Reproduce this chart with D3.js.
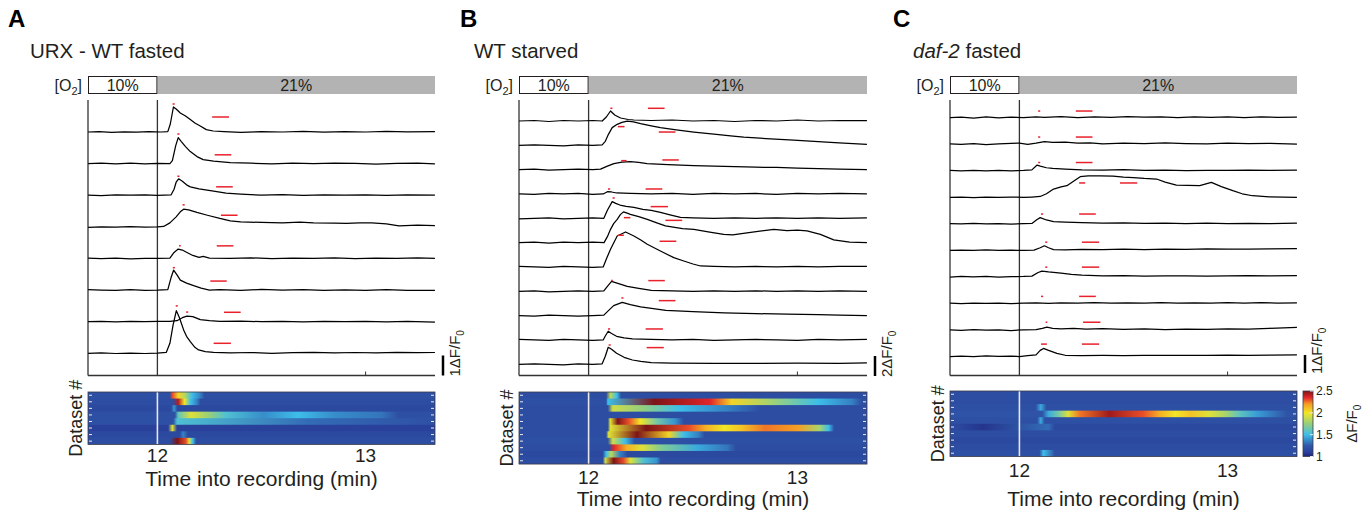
<!DOCTYPE html>
<html>
<head>
<meta charset="utf-8">
<script src="https://cdn.jsdelivr.net/npm/d3@7"></script>
<style>
    body { margin: 0; background: #fff; }
    text { font-family: "Liberation Sans", Arial, sans-serif; fill: #231f20; }
</style>
</head>
<body>
<script>
/** time axis (min) shared by all panels */
const timeDomain = [11 + 2 / 3, 13 + 1 / 3];
const timeTicks = [12, 13];
const stimulusOnset = 12;
const o2Levels = ["10%", "21%"];
const panelLetters = ["A", "B", "C"];
const scaleBarValues = [1, 2, 1];
const colorbarTicks = [1, 1.5, 2, 2.5];

/** ΔF/F0 traces, [time, value] */
const tracesA = [
    [[11.667,0],[11.72,0.02],[11.78,-0.02],[11.84,0.01],[11.9,-0.01],[11.96,0.02],[12.02,0],[12.05,0.02],[12.062,0.4],[12.077,1.25],[12.09,1.15],[12.11,0.95],[12.135,0.8],[12.158,0.62],[12.18,0.45],[12.206,0.3],[12.235,0.12],[12.268,0.05],[12.32,0.02],[12.4,-0.02],[12.5,0.02],[12.6,0],[12.7,0.03],[12.8,-0.01],[12.9,0.02],[13.0,0],[13.1,0.03],[13.2,0.01],[13.333,0.02]],
    [[11.667,0],[11.73,0.02],[11.8,-0.01],[11.87,0.02],[11.94,-0.01],[12.0,0.01],[12.06,0],[12.072,0.15],[12.088,0.9],[12.1,1.3],[12.115,1.1],[12.135,0.85],[12.158,0.6],[12.19,0.35],[12.22,0.2],[12.27,0.12],[12.35,0.05],[12.45,0.02],[12.55,-0.01],[12.65,0.02],[12.75,0],[12.85,0.03],[12.95,0.01],[13.05,-0.02],[13.15,0.01],[13.25,0.02],[13.333,-0.01]],
    [[11.667,0],[11.73,-0.02],[11.8,0.02],[11.87,0],[11.94,0.02],[12.0,-0.01],[12.066,0.02],[12.08,0.3],[12.09,0.65],[12.102,0.82],[12.12,0.7],[12.14,0.52],[12.158,0.42],[12.2,0.32],[12.27,0.2],[12.33,0.1],[12.4,0.05],[12.5,0],[12.6,0.03],[12.7,-0.01],[12.8,0.02],[12.9,0],[13.0,0.02],[13.1,-0.01],[13.2,0.02],[13.333,0]],
    [[11.667,-0.03],[11.73,0],[11.8,-0.02],[11.87,0.01],[11.94,-0.01],[12.0,0],[12.03,0.02],[12.06,0.2],[12.09,0.5],[12.11,0.75],[12.126,0.88],[12.15,0.85],[12.19,0.72],[12.24,0.58],[12.3,0.42],[12.35,0.3],[12.4,0.25],[12.5,0.22],[12.6,0.2],[12.684,0.24],[12.75,0.2],[12.85,0.18],[12.908,0.17],[12.97,0.2],[13.03,0.2],[13.1,0.15],[13.16,0.05],[13.25,0.08],[13.333,0.06]],
    [[11.667,0.02],[11.73,-0.01],[11.8,0.02],[11.87,-0.02],[11.94,0.01],[12.0,0],[12.06,0.02],[12.08,0.3],[12.1,0.47],[12.12,0.42],[12.142,0.3],[12.17,0.15],[12.2,0.05],[12.22,0.1],[12.25,0.02],[12.35,0],[12.45,0.03],[12.55,-0.01],[12.65,0.02],[12.75,0],[12.85,0.03],[12.95,-0.01],[13.05,0.02],[13.15,0],[13.25,0.03],[13.333,0.01]],
    [[11.667,0.02],[11.73,0],[11.8,-0.02],[11.87,0.02],[11.94,-0.01],[12.0,0],[12.05,0.02],[12.065,0.6],[12.078,1.0],[12.095,0.75],[12.11,0.5],[12.14,0.35],[12.174,0.22],[12.21,0.1],[12.25,0],[12.3,0.02],[12.4,-0.01],[12.5,0.03],[12.6,0],[12.7,0.02],[12.8,-0.02],[12.9,0.01],[13.0,-0.01],[13.1,0.02],[13.2,-0.01],[13.333,-0.02]],
    [[11.667,0],[11.73,0.02],[11.8,-0.01],[11.87,0.02],[11.94,0],[12.0,0.02],[12.06,0.01],[12.094,0.05],[12.12,0.2],[12.142,0.28],[12.17,0.25],[12.206,0.1],[12.25,0.05],[12.3,0.02],[12.4,0.03],[12.5,0],[12.6,0.02],[12.7,-0.01],[12.8,0.02],[12.9,0],[13.0,0.02],[13.1,-0.01],[13.2,0.01],[13.333,-0.02]],
    [[11.667,0],[11.73,0.02],[11.8,-0.01],[11.87,0.01],[11.94,-0.01],[12.0,0.01],[12.043,0.05],[12.06,0.5],[12.075,1.4],[12.091,2.13],[12.105,1.8],[12.126,1.17],[12.14,0.85],[12.158,0.58],[12.18,0.3],[12.198,0.17],[12.23,0.08],[12.27,0.05],[12.35,0.02],[12.45,0.04],[12.55,0],[12.65,0.03],[12.75,0.05],[12.85,0.02],[12.95,0.04],[13.05,0.02],[13.15,0.05],[13.25,0.03],[13.333,0.04]]
];
/** red marks: [t start, t end, ΔF/F0 level] */
const peakMarksA = [[12.073,12.083,1.4],[12.096,12.106,1.48],[12.096,12.106,0.95],[12.121,12.131,1.1],[12.104,12.112,0.63],[12.074,12.084,1.12],[12.138,12.148,0.48],[12.088,12.098,2.37]];
const sustainMarksA = [[12.263,12.344,0.75],[12.275,12.355,0.44],[12.282,12.362,0.42],[12.305,12.385,0.58],[12.285,12.365,0.63],[12.254,12.333,0.45],[12.32,12.40,0.47],[12.27,12.353,0.5]];
/** heatmap rows: background level + [t start, t end, level] */
const heatBaseA = [1.2, 1.18, 1.15, 1.2, 1.2, 1.1, 1.15, 1.18];
const heatSegsA = [
    [[12.064,12.08,2.3],[12.08,12.12,2.05],[12.12,12.14,1.85],[12.14,12.19,1.5],[12.19,12.22,1.35]],
    [[12.08,12.12,2.42],[12.12,12.14,2.0],[12.14,12.18,1.5],[12.18,12.2,1.35]],
    [[12.07,12.09,1.4]],
    [[12.088,12.112,1.6],[12.112,12.21,1.95],[12.21,12.29,1.75],[12.29,12.37,1.55],[12.37,12.65,1.38],[12.65,12.7,1.5],[12.7,13.0,1.38],[13.0,13.15,1.32]],
    [[12.08,12.11,1.55],[12.11,13.333,1.3]],
    [[12.056,12.088,1.95]],
    [[12.11,12.14,1.35]],
    [[12.064,12.128,2.55],[12.128,12.145,2.3],[12.145,12.16,1.95],[12.16,12.18,1.5]]
];

const tracesB = [
    [[11.667,0],[11.74,0.05],[11.81,-0.05],[11.88,0.05],[11.95,0],[12.02,0.05],[12.065,0],[12.085,0.4],[12.105,1.0],[12.125,0.6],[12.153,0.3],[12.19,0.15],[12.217,0.1],[12.3,0.05],[12.4,0.1],[12.5,0],[12.6,0.05],[12.7,-0.05],[12.8,0.05],[12.9,0],[13.0,0.1],[13.1,0],[13.2,0.05],[13.333,0.05]],
    [[11.667,0],[11.74,0.05],[11.81,0],[11.88,-0.05],[11.95,0.05],[12.02,0],[12.065,0.05],[12.08,0.4],[12.095,1.1],[12.113,1.77],[12.137,2.1],[12.16,2.3],[12.185,2.43],[12.215,2.35],[12.249,2.17],[12.3,1.95],[12.344,1.77],[12.42,1.55],[12.504,1.33],[12.6,1.12],[12.68,0.95],[12.743,0.83],[12.85,0.68],[12.982,0.53],[13.1,0.38],[13.2,0.25],[13.333,0.1]],
    [[11.667,0],[11.74,0.05],[11.81,-0.05],[11.88,0],[11.95,0.05],[12.02,0],[12.057,0.05],[12.09,0.35],[12.121,0.6],[12.16,0.75],[12.2,0.8],[12.24,0.72],[12.28,0.6],[12.38,0.5],[12.504,0.4],[12.6,0.35],[12.7,0.3],[12.8,0.25],[12.9,0.22],[13.0,0.15],[13.1,0.1],[13.2,0.05],[13.333,0]],
    [[11.667,0],[11.74,-0.05],[11.81,0.05],[11.88,0],[11.95,0.05],[12.02,-0.05],[12.07,0],[12.09,0.23],[12.11,0.2],[12.134,0.1],[12.2,0.05],[12.3,0],[12.4,0.05],[12.5,-0.05],[12.6,0.05],[12.7,0],[12.8,0.05],[12.9,-0.05],[13.0,0.05],[13.1,0],[13.2,0.05],[13.333,0]],
    [[11.667,-0.05],[11.74,0],[11.81,0.05],[11.88,-0.05],[11.95,0],[12.02,0.05],[12.073,0],[12.09,0.8],[12.113,1.67],[12.13,1.5],[12.15,1.33],[12.18,1.2],[12.217,1.1],[12.26,0.9],[12.3,0.8],[12.344,0.6],[12.39,0.35],[12.44,0.1],[12.5,0.05],[12.6,0],[12.7,0.05],[12.8,0],[12.9,0.05],[13.0,0],[13.1,0.05],[13.2,0],[13.333,0.05]],
    [[11.667,0],[11.74,0.05],[11.81,-0.05],[11.88,0.05],[11.95,0],[12.02,0.05],[12.074,0],[12.09,0.6],[12.105,1.33],[12.12,1.9],[12.137,2.33],[12.152,2.8],[12.167,3.08],[12.185,2.95],[12.2,2.83],[12.24,2.6],[12.281,2.33],[12.33,1.95],[12.368,1.67],[12.45,1.4],[12.504,1.33],[12.58,1.05],[12.647,0.83],[12.69,0.77],[12.75,0.95],[12.82,1.15],[12.887,1.33],[12.95,1.2],[13.0,1.25],[13.046,1.17],[13.11,0.83],[13.174,0.27],[13.25,0.05],[13.333,0]],
    [[11.667,0.05],[11.74,0],[11.81,-0.05],[11.88,0.05],[11.95,0],[12.02,-0.05],[12.07,0],[12.085,0.8],[12.105,1.77],[12.137,3.1],[12.177,3.5],[12.217,3.1],[12.25,2.7],[12.281,2.27],[12.344,1.6],[12.408,0.93],[12.456,0.6],[12.5,0.3],[12.536,0.1],[12.6,0.05],[12.7,0],[12.8,0.05],[12.9,0],[13.0,0.05],[13.1,0],[13.2,0.05],[13.333,0.05]],
    [[11.667,0],[11.74,0.05],[11.81,-0.05],[11.88,0],[11.95,0.05],[12.02,0],[12.073,0.05],[12.09,0.5],[12.11,1.0],[12.14,0.8],[12.185,0.5],[12.24,0.3],[12.3,0.1],[12.4,0.05],[12.5,0],[12.6,0.05],[12.7,0],[12.8,0.05],[12.9,0],[13.0,0.05],[13.1,0],[13.2,0.05],[13.333,0]],
    [[11.667,0],[11.74,-0.05],[11.81,0.05],[11.88,0],[11.95,-0.05],[12.02,0],[12.073,0.05],[12.095,0.5],[12.12,1.0],[12.161,1.33],[12.2,1.1],[12.249,0.87],[12.31,0.7],[12.37,0.53],[12.5,0.4],[12.65,0.27],[12.8,0.2],[12.95,0.15],[13.1,0.1],[13.2,0.05],[13.333,0]],
    [[11.667,0.05],[11.74,0],[11.81,-0.05],[11.88,0.05],[11.95,0],[12.02,-0.05],[12.07,0],[12.08,0.4],[12.094,0.87],[12.11,0.65],[12.134,0.37],[12.17,0.2],[12.21,0.1],[12.3,0.05],[12.4,0],[12.5,0.05],[12.6,-0.05],[12.7,0],[12.8,0.05],[12.9,0],[13.0,-0.05],[13.1,0.05],[13.2,0],[13.333,0.05]],
    [[11.667,0],[11.74,0.05],[11.81,0],[11.88,-0.05],[11.95,0.05],[12.02,0],[12.065,0.05],[12.08,0.8],[12.094,1.7],[12.11,1.5],[12.134,1.1],[12.17,0.7],[12.21,0.43],[12.25,0.3],[12.3,0.17],[12.4,0.12],[12.6,0.1],[12.8,0.1],[13.0,0.12],[13.2,0.1],[13.333,0.15]]
];
const peakMarksB = [[12.104,12.114,1.27],[12.14,12.172,1.87],[12.156,12.182,0.9],[12.093,12.103,0.5],[12.115,12.125,2.03],[12.169,12.2,2.5],[12.14,12.169,3.17],[12.108,12.116,1.07],[12.157,12.167,1.77],[12.093,12.103,1.1],[12.096,12.106,1.93]];
const sustainMarksB = [[12.284,12.364,1.27],[12.336,12.416,1.33],[12.353,12.432,0.97],[12.273,12.353,0.5],[12.297,12.38,1.17],[12.368,12.448,2.23],[12.34,12.42,2.57],[12.286,12.365,1.07],[12.336,12.416,1.5],[12.273,12.356,1.1],[12.278,12.36,1.67]];
const heatBaseB = [1.18, 1.2, 1.18, 1.18, 1.18, 1.18, 1.18, 1.2, 1.18, 1.15, 1.18];
const heatSegsB = [
    [[12.088,12.12,1.85],[12.12,12.15,1.5]],
    [[12.088,12.096,1.5],[12.096,12.534,2.55],[12.534,12.63,2.35],[12.63,12.74,2.05],[12.74,12.98,1.8],[12.98,13.22,1.5],[13.22,13.3,1.35]],
    [[12.096,12.135,1.9],[12.135,12.37,1.75],[12.37,12.5,1.5],[12.5,12.82,1.35]],
    [],
    [[12.096,12.112,1.95],[12.112,12.167,2.5],[12.167,12.215,2.3],[12.215,12.28,2.0],[12.28,12.375,1.65],[12.375,12.45,1.4]],
    [[12.096,12.112,1.95],[12.112,12.44,2.55],[12.44,12.52,2.3],[12.52,12.6,2.15],[12.6,12.7,2.0],[12.7,12.77,2.1],[12.77,12.92,2.25],[12.92,13.08,2.2],[13.08,13.13,1.8],[13.13,13.17,1.5]],
    [[12.088,12.104,1.95],[12.104,12.36,2.55],[12.36,12.41,2.05],[12.41,12.5,1.5],[12.5,12.55,1.35]],
    [[12.096,12.135,1.9],[12.135,12.215,1.5]],
    [[12.104,12.135,2.35],[12.135,12.23,2.15],[12.23,12.28,1.95],[12.28,12.41,1.7],[12.41,12.63,1.45],[12.63,12.7,1.32]],
    [[12.072,12.096,1.5],[12.096,12.12,1.85],[12.12,12.18,1.35]],
    [[12.072,12.088,1.9],[12.088,12.152,2.55],[12.152,12.184,2.3],[12.184,12.215,1.95],[12.215,12.31,1.55],[12.31,12.34,1.4]]
];

const tracesC = [
    [[11.667,0],[11.72,0.03],[11.78,-0.02],[11.84,0.04],[11.9,-0.01],[11.96,0.03],[12.02,0],[12.08,0.04],[12.12,0.02],[12.2,0.06],[12.28,0.01],[12.36,0.04],[12.44,0.02],[12.52,0.06],[12.6,0.03],[12.68,0.04],[12.76,0.01],[12.84,0.05],[12.92,0.02],[13.0,0.04],[13.08,0.01],[13.16,0.04],[13.24,0.02],[13.333,0.03]],
    [[11.667,0.02],[11.72,0],[11.78,0.04],[11.84,-0.02],[11.9,0.02],[11.96,0.05],[12.0,0.06],[12.04,0],[12.08,0.06],[12.12,0.15],[12.16,0.1],[12.22,0.12],[12.28,0.06],[12.34,0.08],[12.4,0.02],[12.5,0.06],[12.6,0.03],[12.7,0.08],[12.8,0.04],[12.9,0.02],[13.0,0.06],[13.1,0.03],[13.2,0.05],[13.333,0.01]],
    [[11.667,0.02],[11.72,0],[11.78,0.03],[11.84,-0.01],[11.9,0.02],[11.96,0],[12.02,0.02],[12.06,0.05],[12.085,0.32],[12.1,0.26],[12.13,0.17],[12.16,0.13],[12.22,0.09],[12.3,0.05],[12.4,0.04],[12.5,0.06],[12.6,0.03],[12.7,0.04],[12.8,0.01],[12.9,0.03],[13.0,0.02],[13.1,0.04],[13.2,0.02],[13.333,0.04]],
    [[11.667,0],[11.72,0.02],[11.78,-0.02],[11.84,0.02],[11.9,0],[11.96,0.02],[12.02,0],[12.06,0.02],[12.1,0.05],[12.13,0.2],[12.164,0.46],[12.2,0.58],[12.228,0.65],[12.26,0.9],[12.292,1.15],[12.33,1.2],[12.388,1.2],[12.45,1.18],[12.5,1.12],[12.547,1.1],[12.6,1.05],[12.659,1.02],[12.7,0.85],[12.754,0.68],[12.81,0.66],[12.866,0.65],[12.922,0.83],[12.97,0.6],[13.025,0.37],[13.07,0.2],[13.12,0.09],[13.2,0.03],[13.333,0]],
    [[11.667,0.02],[11.72,0],[11.78,0.03],[11.84,0],[11.9,0.02],[11.96,-0.01],[12.02,0.02],[12.06,0.03],[12.085,0.25],[12.1,0.35],[12.13,0.22],[12.164,0.13],[12.22,0.1],[12.3,0.07],[12.4,0.04],[12.5,0.06],[12.6,0.03],[12.7,0.05],[12.8,0.02],[12.9,0.04],[13.0,0.01],[13.1,0.03],[13.2,0.02],[13.333,0.04]],
    [[11.667,0],[11.72,0.02],[11.78,0],[11.84,0.03],[11.9,0],[11.96,0.02],[12.02,0],[12.07,0.02],[12.1,0.15],[12.12,0.26],[12.14,0.15],[12.164,0.05],[12.22,0.04],[12.3,0.06],[12.4,0.05],[12.5,0.07],[12.6,0.05],[12.7,0.08],[12.8,0.06],[12.9,0.09],[13.0,0.07],[13.1,0.08],[13.2,0.09],[13.333,0.1]],
    [[11.667,0],[11.72,0.03],[11.78,0.01],[11.84,0.03],[11.9,0],[11.96,0.02],[12.02,0.03],[12.06,0.05],[12.09,0.25],[12.108,0.33],[12.14,0.28],[12.2,0.22],[12.25,0.15],[12.3,0.1],[12.4,0.06],[12.5,0.08],[12.6,0.05],[12.7,0.07],[12.8,0.06],[12.9,0.05],[13.0,0.07],[13.1,0.08],[13.2,0.06],[13.333,0.08]],
    [[11.667,0.02],[11.72,0],[11.78,0.03],[11.84,0.01],[11.9,0.02],[11.96,0],[12.02,0.03],[12.08,0.04],[12.14,0.01],[12.2,0.04],[12.28,0.02],[12.36,0.05],[12.44,0.02],[12.52,0.04],[12.6,0.03],[12.68,0.05],[12.76,0.02],[12.84,0.04],[12.92,0.03],[13.0,0.05],[13.08,0.02],[13.16,0.05],[13.24,0.03],[13.333,0.04]],
    [[11.667,0.02],[11.72,-0.01],[11.78,0.03],[11.84,0],[11.9,0.02],[11.96,-0.02],[12.02,0.02],[12.08,0.03],[12.11,0.1],[12.132,0.17],[12.16,0.1],[12.2,0.07],[12.26,0.1],[12.32,0.05],[12.4,0.08],[12.5,0.04],[12.6,0.07],[12.7,0.03],[12.8,0.06],[12.9,0.04],[13.0,0.07],[13.1,0.05],[13.2,0.1],[13.333,0.16]],
    [[11.667,0],[11.72,0.03],[11.78,0.01],[11.84,0.04],[11.9,0.02],[11.96,0.03],[12.0,0.01],[12.04,0.06],[12.08,0.1],[12.1,0.35],[12.116,0.46],[12.14,0.35],[12.18,0.18],[12.22,0.08],[12.3,0.06],[12.4,0.07],[12.5,0.06],[12.6,0.07],[12.7,0.08],[12.8,0.07],[12.9,0.08],[13.0,0.09],[13.1,0.07],[13.2,0.09],[13.333,0.1]]
];
const peakMarksC = [[12.09,12.1,0.37],[12.09,12.1,0.4],[12.09,12.1,0.46],[12.287,12.316,0.8],[12.104,12.114,0.55],[12.124,12.134,0.46],[12.124,12.134,0.55],[12.104,12.114,0.4],[12.126,12.134,0.44],[12.104,12.132,0.7]];
const sustainMarksC = [[12.271,12.351,0.37],[12.271,12.351,0.4],[12.271,12.351,0.46],[12.483,12.566,0.8],[12.287,12.367,0.55],[12.3,12.383,0.46],[12.3,12.383,0.55],[12.287,12.367,0.4],[12.306,12.389,0.44],[12.3,12.383,0.7]];
const heatBaseC = [1.18, 1.18, 1.2, 1.22, 1.2, 1.15, 1.18, 1.15, 1.18, 1.2];
const heatSegsC = [
    [],
    [],
    [[12.083,12.123,1.45]],
    [[12.115,12.163,1.45],[12.163,12.21,1.65],[12.21,12.26,1.95],[12.26,12.32,2.25],[12.32,12.545,2.45],[12.545,12.64,2.3],[12.64,12.71,2.15],[12.71,12.785,2.0],[12.785,12.86,2.1],[12.86,12.96,1.95],[12.96,13.02,1.8],[13.02,13.09,1.6],[13.09,13.19,1.42],[13.19,13.28,1.3]],
    [[12.09,12.115,1.45]],
    [[11.7,11.95,1.06],[12.115,12.163,1.3]],
    [],
    [],
    [],
    [[12.1,12.131,1.5],[12.131,12.163,1.35]]
];

/** 页面布局：每个面板的像素位置 */
const panels = [
    { traces: tracesA, peaks: peakMarksA, sustains: sustainMarksA, heatBase: heatBaseA, heatSegs: heatSegsA,
      left: 88, right: 435, firstBase: 132, lastBase: 353.3, unitPx: 20, barBottom: 375.5,
      heatTop: 392, tickY: 462, xLabelY: 486, letterX: 8, titleX: 30 },
    { traces: tracesB, peaks: peakMarksB, sustains: sustainMarksB, heatBase: heatBaseB, heatSegs: heatSegsB,
      left: 519, right: 867, firstBase: 121, lastBase: 364.3, unitPx: 10, barBottom: 376,
      heatTop: 392, tickY: 484, xLabelY: 506, letterX: 460, titleX: 474 },
    { traces: tracesC, peaks: peakMarksC, sustains: sustainMarksC, heatBase: heatBaseC, heatSegs: heatSegsC,
      left: 950, right: 1297, firstBase: 117.7, lastBase: 356.7, unitPx: 18, barBottom: 373,
      heatTop: 391, tickY: 477, xLabelY: 506, letterX: 893, titleX: 913 }
];
const rowHeight = 6.55;
const traceTop = 100;
const axisY = 375.5;

/** jet-like colour map of the heatmaps */
const heatColor = d3.scaleLinear()
    .domain([1, 1.1, 1.25, 1.5, 1.75, 2, 2.2, 2.35, 2.5])
    .range(["#1d2277", "#2a419b", "#3058a9", "#3dbee9", "#95cf7c", "#f2e626", "#f59e25", "#e2252a", "#7e1416"])
    .clamp(true);

const svg = d3.select("body").append("svg")
    .attr("width", 1371)
    .attr("height", 517);
const defs = svg.append("defs");

const drawPanel = (p, i) => {
    const g = svg.append("g");
    const x = d3.scaleLinear().domain(timeDomain).range([p.left, p.right]);
    const base = d3.scaleLinear().domain([0, p.traces.length - 1]).range([p.firstBase, p.lastBase]);

    // 面板字母与标题
    g.append("text").attr("x", p.letterX).attr("y", 27)
        .style("font-size", "24px").style("font-weight", "bold").style("fill", "#000")
        .text(panelLetters[i]);
    const title = g.append("text").attr("x", p.titleX).attr("y", 58).style("font-size", "20.5px");
    if (i === 0) title.text("URX - WT fasted");
    if (i === 1) title.text("WT starved");
    if (i === 2) {
        title.append("tspan").style("font-style", "italic").text("daf-2");
        title.append("tspan").text(" fasted");
    }

    // [O2] 刺激条
    g.append("rect").attr("x", x(stimulusOnset)).attr("y", 76)
        .attr("width", x(timeDomain[1]) - x(stimulusOnset)).attr("height", 18)
        .style("fill", "#b3b3b3");
    g.append("rect").attr("x", x(timeDomain[0]) + 0.5).attr("y", 76.5)
        .attr("width", x(stimulusOnset) - x(timeDomain[0]) - 1).attr("height", 17)
        .style("fill", "#fff").style("stroke", "#231f20").style("stroke-width", 1);
    g.append("text").attr("x", (x(timeDomain[0]) + x(stimulusOnset)) / 2).attr("y", 91)
        .attr("text-anchor", "middle").style("font-size", "16px").text(o2Levels[0]);
    g.append("text").attr("x", (x(stimulusOnset) + x(timeDomain[1])) / 2).attr("y", 91)
        .attr("text-anchor", "middle").style("font-size", "16px").text(o2Levels[1]);
    const o2 = g.append("text").attr("x", p.left - 6).attr("y", 91)
        .attr("text-anchor", "end").style("font-size", "16px");
    o2.append("tspan").text("[O");
    o2.append("tspan").attr("dy", 4).style("font-size", "11px").text("2");
    o2.append("tspan").attr("dy", -4).text("]");

    // 坐标轴线
    const axisColor = "#333";
    g.append("line").attr("x1", p.left).attr("x2", p.left).attr("y1", traceTop).attr("y2", axisY)
        .style("stroke", axisColor).style("stroke-width", 1.3);
    g.append("line").attr("x1", p.left).attr("x2", p.right).attr("y1", axisY).attr("y2", axisY)
        .style("stroke", axisColor).style("stroke-width", 1.3);
    g.append("line").attr("x1", x(stimulusOnset)).attr("x2", x(stimulusOnset))
        .attr("y1", traceTop).attr("y2", axisY)
        .style("stroke", axisColor).style("stroke-width", 1.3);
    g.selectAll(".tick13").data(timeTicks.filter(t => t !== stimulusOnset)).enter()
        .append("line").attr("x1", d => x(d)).attr("x2", d => x(d))
        .attr("y1", axisY).attr("y2", axisY - 4)
        .style("stroke", axisColor).style("stroke-width", 1);

    // 荧光曲线
    p.traces.forEach((tr, k) => {
        const y = d3.scaleLinear().domain([0, 1]).range([base(k), base(k) - p.unitPx]);
        const line = d3.line().x(d => x(d[0])).y(d => y(d[1]));
        g.append("path").datum(tr).attr("d", line)
            .style("fill", "none").style("stroke", "#000").style("stroke-width", 1.25)
            .style("stroke-linejoin", "round");
        [p.peaks[k], p.sustains[k]].forEach(m => {
            g.append("line").attr("x1", x(m[0])).attr("x2", x(m[1]))
                .attr("y1", y(m[2])).attr("y2", y(m[2]))
                .style("stroke", "#e8212b").style("stroke-width", 1.5);
        });
    });

    // 比例尺
    g.append("line").attr("x1", p.right + 8).attr("x2", p.right + 8)
        .attr("y1", p.barBottom).attr("y2", p.barBottom - p.unitPx * scaleBarValues[i])
        .style("stroke", "#000").style("stroke-width", 2.5);
    const sb = g.append("text")
        .attr("transform", `translate(${p.right + 25},${p.barBottom + 1}) rotate(-90)`)
        .style("font-size", "15px");
    sb.append("tspan").text(scaleBarValues[i] + "\u0394F/F");
    sb.append("tspan").attr("dy", 4).style("font-size", "10px").text("0");

    // 热图：每行一个水平渐变，停点取自各段中点
    const rows = d3.range(p.heatBase.length);
    const band = d3.scaleBand().domain(rows).range([p.heatTop, p.heatTop + rows.length * rowHeight]);
    const heatBottom = p.heatTop + rows.length * rowHeight;
    rows.forEach(r => {
        const gid = `heat${i}_${r}`;
        const gr = defs.append("linearGradient").attr("id", gid)
            .attr("gradientUnits", "userSpaceOnUse")
            .attr("x1", p.left).attr("x2", p.right).attr("y1", 0).attr("y2", 0);
        const stops = [[timeDomain[0], p.heatBase[r]]];
        const segs = p.heatSegs[r];
        if (segs.length) {
            stops.push([segs[0][0] - 0.004, p.heatBase[r]]);
            segs.forEach(s => stops.push([(s[0] + s[1]) / 2, s[2]]));
            stops.push([segs[segs.length - 1][1] + 0.006, p.heatBase[r]]);
        }
        stops.push([timeDomain[1], p.heatBase[r]]);
        stops.forEach(s => {
            gr.append("stop")
                .attr("offset", (x(s[0]) - p.left) / (p.right - p.left))
                .attr("stop-color", heatColor(s[1]));
        });
        g.append("rect").attr("x", p.left).attr("y", band(r))
            .attr("width", p.right - p.left).attr("height", band.bandwidth() + (r < rows.length - 1 ? 1 : 0))
            .style("fill", `url(#${gid})`);
    });
    rows.forEach(r => {
        [p.left + 1, p.right - 4].forEach(tx => {
            g.append("line").attr("x1", tx).attr("x2", tx + 3)
                .attr("y1", band(r) + band.bandwidth() / 2).attr("y2", band(r) + band.bandwidth() / 2)
                .style("stroke", "#e6e9f2").style("stroke-width", 1);
        });
    });
    g.append("line").attr("x1", x(stimulusOnset)).attr("x2", x(stimulusOnset))
        .attr("y1", p.heatTop).attr("y2", heatBottom)
        .style("stroke", "#e8e8e8").style("stroke-width", 1.6);
    g.append("rect").attr("x", p.left).attr("y", p.heatTop)
        .attr("width", p.right - p.left).attr("height", heatBottom - p.heatTop)
        .style("fill", "none").style("stroke", "#3a3a4a").style("stroke-width", 0.8);

    g.selectAll(".xt").data(timeTicks).enter().append("text")
        .attr("x", d => x(d)).attr("y", p.tickY).attr("text-anchor", "middle")
        .style("font-size", "19px").text(d => d);
    g.append("text").attr("x", (p.left + p.right) / 2).attr("y", p.xLabelY)
        .attr("text-anchor", "middle").style("font-size", "21px")
        .text("Time into recording (min)");
    g.append("text")
        .attr("transform", `translate(${p.left - 6},${(p.heatTop + heatBottom) / 2}) rotate(-90)`)
        .attr("text-anchor", "middle").style("font-size", "18px")
        .text("Dataset #");

    return { x, heatTop: p.heatTop, heatBottom };
};

const drawn = panels.map(drawPanel);

// 颜色条（仅 C）
const cb = drawn[2];
const cScale = d3.scaleLinear().domain([1, 2.5]).range([cb.heatBottom, cb.heatTop]);
const grad = defs.append("linearGradient").attr("id", "jet")
    .attr("x1", 0).attr("x2", 0).attr("y1", 1).attr("y2", 0);
heatColor.domain().forEach(v => {
    grad.append("stop").attr("offset", (v - 1) / 1.5).attr("stop-color", heatColor(v));
});
svg.append("rect").attr("x", 1303).attr("y", cb.heatTop)
    .attr("width", 10).attr("height", cb.heatBottom - cb.heatTop)
    .style("fill", "url(#jet)").style("stroke", "#3a3a4a").style("stroke-width", 0.8);
svg.selectAll(".cbt").data(colorbarTicks).enter().append("line")
    .attr("x1", 1310).attr("x2", 1313).attr("y1", d => cScale(d)).attr("y2", d => cScale(d))
    .style("stroke", "#e6e9f2").style("stroke-width", 1);
svg.selectAll(".cbl").data(colorbarTicks).enter().append("text")
    .attr("x", 1316).attr("y", d => cScale(d) + 4)
    .style("font-size", "12px").text(d => d);
const cbl = svg.append("text")
    .attr("transform", `translate(1357,${(cb.heatTop + cb.heatBottom) / 2}) rotate(-90)`)
    .attr("text-anchor", "middle").style("font-size", "15px");
cbl.append("tspan").text("\u0394F/F");
cbl.append("tspan").attr("dy", 4).style("font-size", "10px").text("0");
</script>
</body>
</html>
